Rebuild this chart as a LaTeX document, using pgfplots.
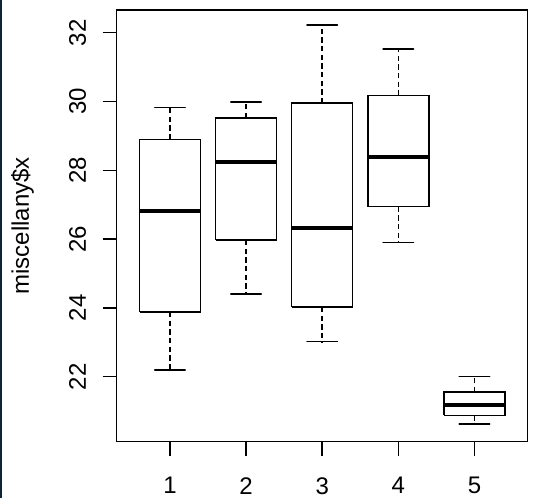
\documentclass[border=0pt]{standalone}
\usepackage{fontspec}
\setmainfont{Liberation Sans}
\usepackage{pgfplots}
\pgfplotsset{compat=1.18}

\definecolor{strip}{RGB}{14,35,54}

\begin{document}
\begin{tikzpicture}
\fill[strip] (0,0) rectangle (1.6pt,373.5pt);
\path (0,0) rectangle (404.25pt,373.5pt);
\begin{axis}[
  at={(87.5pt,42.2pt)}, anchor=south west,
  width=308.3pt, height=323.8pt, scale only axis,
  xmin=0.3, xmax=5.7,
  ymin=20.11, ymax=32.66,
  axis line style={line width=1.1pt, black},
  tick style={line width=1.1pt, black},
  tick align=outside, major tick length=10.5pt,
  xtick pos=bottom, ytick pos=left,
  xtick={1,2,3,4,5},
  ytick={22,24,26,28,30,32},
  /pgf/number format/assume math mode=true,
  ticklabel style={font=\fontsize{18}{21}\selectfont, inner sep=0pt},
  yticklabel style={rotate=90, anchor=base},
  xticklabel style={anchor=north},
  yticklabel shift=12.5pt,
  xticklabel shift=16pt,
  every axis y label/.style={at={(axis description cs:0,0.5)}, rotate=90,
    anchor=base, yshift=65.8pt, inner sep=0pt,
    font=\fontsize{18}{21}\selectfont},
  ylabel={miscellany\$x},
  unbounded coords=jump,
  every axis plot/.append style={black, line width=1.1pt, mark=none},
]
% whisker stems (quartile -> whisker end), dashed
\addplot[black, dash pattern=on 4pt off 2.5pt] coordinates {
  (1,28.90) (1,29.82) (nan,nan) (1,23.88) (1,22.19) (nan,nan)
  (2,29.52) (2,29.99) (nan,nan) (2,25.97) (2,24.41) (nan,nan)
  (3,29.95) (3,32.22) (nan,nan) (3,24.03) (3,23.02) (nan,nan)
  (4,30.17) (4,31.53) (nan,nan) (4,26.94) (4,25.90) (nan,nan)
  (5,21.56) (5,22.01) (nan,nan) (5,20.88) (5,20.62)
};
% staples
\addplot[black, line cap=round] coordinates {
  (0.8,29.82) (1.2,29.82) (nan,nan) (0.8,22.19) (1.2,22.19) (nan,nan)
  (1.8,29.99) (2.2,29.99) (nan,nan) (1.8,24.41) (2.2,24.41) (nan,nan)
  (2.8,32.22) (3.2,32.22) (nan,nan) (2.8,23.02) (3.2,23.02) (nan,nan)
  (3.8,31.53) (4.2,31.53) (nan,nan) (3.8,25.90) (4.2,25.90) (nan,nan)
  (4.8,22.01) (5.2,22.01) (nan,nan) (4.8,20.62) (5.2,20.62)
};
% boxes (lower to upper quartile)
\addplot[black] coordinates {
  (0.6,23.88) (1.4,23.88) (1.4,28.90) (0.6,28.90) (0.6,23.88) (nan,nan)
  (1.6,25.97) (2.4,25.97) (2.4,29.52) (1.6,29.52) (1.6,25.97) (nan,nan)
  (2.6,24.03) (3.4,24.03) (3.4,29.95) (2.6,29.95) (2.6,24.03) (nan,nan)
  (3.6,26.94) (4.4,26.94) (4.4,30.17) (3.6,30.17) (3.6,26.94) (nan,nan)
  (4.6,20.88) (5.4,20.88) (5.4,21.56) (4.6,21.56) (4.6,20.88)
};
% medians
\addplot[black, line width=3.2pt] coordinates {
  (0.6,26.81) (1.4,26.81) (nan,nan)
  (1.6,28.25) (2.4,28.25) (nan,nan)
  (2.6,26.33) (3.4,26.33) (nan,nan)
  (3.6,28.39) (4.4,28.39) (nan,nan)
  (4.6,21.18) (5.4,21.18)
};
\end{axis}
\end{tikzpicture}
\end{document}
